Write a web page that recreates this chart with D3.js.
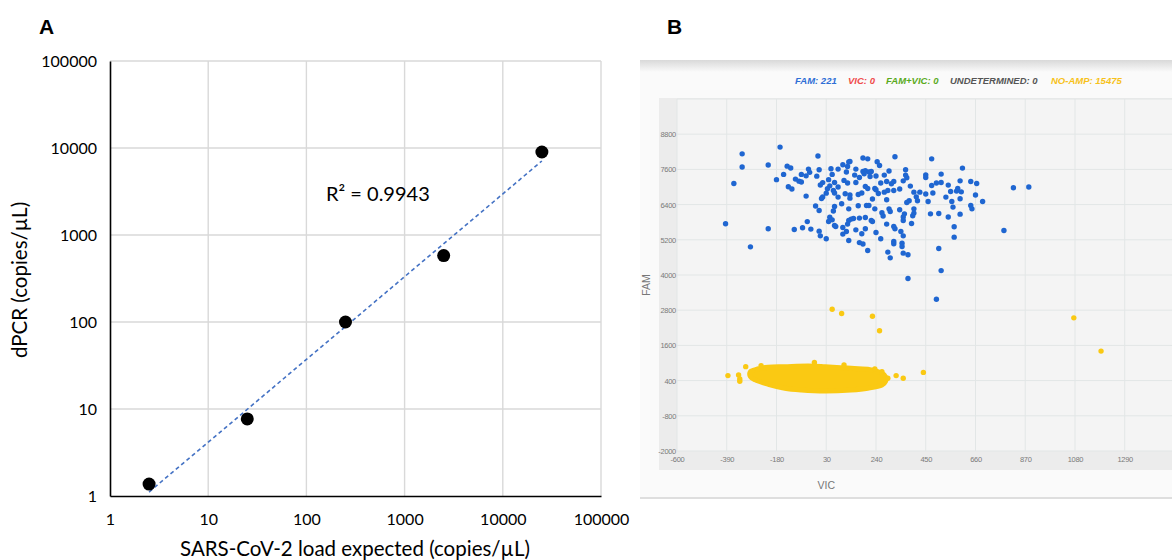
<!DOCTYPE html>
<html>
<head>
<meta charset="utf-8">
<script src="https://cdn.jsdelivr.net/npm/d3@7"></script>
<style>
  body { margin: 0; background: #fff; }
  svg { display: block; font-family: "Liberation Sans", Arial, sans-serif; }
</style>
</head>
<body>
<svg id="chart" width="1172" height="560"></svg>
<script>
// ---------- panel A data ----------
var loadExpected = [2.5, 25, 250, 2500, 25000];
var dpcrMeasured = [1.37, 7.7, 100, 580, 9000];
var logTicks = [1, 10, 100, 1000, 10000, 100000];
var r2Label = "R\u00b2 = 0.9943";

// ---------- panel B data ----------
var legendLabels = ["FAM: 221", "VIC: 0", "FAM+VIC: 0", "UNDETERMINED: 0", "NO-AMP: 15475"];
var vicTicks = [-600, -390, -180, 30, 240, 450, 660, 870, 1080, 1290];
var famTicks = [-2000, -800, 400, 1600, 2800, 4000, 5200, 6400, 7600, 8800];

// FAM positive droplets [VIC, FAM]
var famDroplets = [
  [-325,8130],[-165,8360],[-325,7680],[-215,7750],[-360,7120],[-135,7710],[-120,7650],[-150,7430],[-180,7250],[-130,7010],
  [-115,6930],[-100,7270],[-85,7200],[-75,7170],[-75,7430],[-55,7380],[-45,7610],[-40,7500],[-5,8055],[-10,7370],
  [0,7590],[-55,6690],[-15,6350],[0,6200],[-395,5745],[-50,5820],[50,7620],[55,7430],[40,7250],[15,7150],
  [5,7070],[45,7040],[35,6940],[60,6880],[30,6790],[15,6660],[10,6610],[45,5970],[60,6180],[55,5880],
  [-290,4960],[-215,5575],[-105,5550],[-70,5610],[-35,5565],[0,5495],[5,5335],[30,5235],[40,5825],[65,5690],
  [185,7990],[205,7960],[320,8030],[475,7960],[100,7760],[125,7850],[130,7870],[120,7700],[80,7610],[155,7610],
  [115,7510],[245,7860],[255,7735],[185,7530],[195,7555],[210,7510],[220,7530],[190,7450],[150,7405],[170,7325],
  [215,7360],[240,7375],[275,7405],[295,7545],[365,7590],[365,7405],[370,7315],[450,7415],[450,7325],[515,7440],
  [65,7155],[105,7225],[120,7135],[155,7155],[260,7135],[285,7190],[315,7190],[305,7110],[355,7210],[385,7030],
  [475,7050],[495,7135],[515,7155],[545,7065],[80,7000],[195,7020],[205,6950],[235,6950],[240,6905],[275,6825],
  [290,6880],[315,6880],[340,6930],[400,6825],[425,6825],[65,6795],[110,6770],[130,6725],[165,6745],[180,6795],
  [250,6780],[450,6760],[480,6795],[555,6845],[535,6655],[80,6655],[130,6620],[225,6590],[285,6565],[410,6665],
  [415,6530],[460,6505],[380,6530],[370,6470],[95,6430],[125,6255],[165,6360],[200,6370],[210,6370],[340,6225],
  [400,6255],[235,6255],[295,6255],[300,6165],[265,6120],[270,6010],[360,6085],[355,5975],[400,6110],[395,6020],
  [470,6085],[505,6095],[545,5975],[135,5905],[145,5925],[170,5940],[195,5960],[220,5860],[125,5860],[65,6335],
  [70,5655],[100,5620],[100,5395],[115,5485],[120,5735],[125,5175],[155,5540],[180,5405],[195,5575],[225,5825],
  [170,5105],[185,5055],[205,4835],[240,5450],[260,5235],[285,5735],[315,5655],[320,5575],[345,5485],[355,5335],
  [390,5755],[315,5140],[315,5065],[350,5085],[350,4970],[290,4780],[300,4585],[355,4745],[375,4690],[505,4905],
  [570,5290],[515,4150],[375,3880],[495,3175],[355,5860],[605,7645],[640,7190],[665,7120],[595,7210],[820,6975],
  [885,7000],[585,6950],[580,6860],[600,6835],[660,6725],[595,6600],[560,6505],[690,6505],[565,6315],[640,6370],
  [645,6255],[595,6075],[570,5645],[780,5515]
];

// NO-AMP droplets: dense core outline and the scattered ones round it [VIC, FAM]
var noAmpCore = [
  [-290,705],[-255,800],[-215,855],[-145,875],[-45,900],[25,875],[95,840],[165,800],[220,765],[265,650],
  [280,535],[280,365],[265,250],[205,140],[135,80],[25,45],[-75,80],[-145,140],[-215,275],[-270,425],[-290,535]
];
var noAmpDroplets = [
  [55,2830],[95,2690],[225,2595],[255,2100],[1075,2540],[1190,1405],[440,680],[325,570],[355,480],[290,480],
  [-385,570],[-340,595],[-335,455],[-335,380],[-310,875],[-245,910],[-260,790],[-20,1015],[105,935],[235,800],[265,705]
];

var svg = d3.select("#chart");
var plain = function(d){ return String(d); };

// ================= PANEL A =================
var xA = d3.scaleLog().domain([1, 100000]).range([110, 601]);
var yA = d3.scaleLog().domain([1, 100000]).range([496, 61]);
var fontA = "Lato, 'Open Sans', sans-serif";

svg.append("text").attr("x", 39).attr("y", 34)
  .style("font-family", "Arial, 'Liberation Sans', sans-serif")
  .style("font-weight", "bold").style("font-size", "21px").text("A");

var gA = svg.append("g");

gA.selectAll("line.vgrid").data(logTicks.slice(1)).enter().append("line")
  .attr("class", "vgrid")
  .attr("x1", function(d){ return xA(d); }).attr("x2", function(d){ return xA(d); })
  .attr("y1", yA(100000)).attr("y2", yA(1))
  .attr("stroke", "#d9d9d9").attr("stroke-width", 1.4);

gA.selectAll("line.hgrid").data(logTicks.slice(1)).enter().append("line")
  .attr("class", "hgrid")
  .attr("y1", function(d){ return yA(d); }).attr("y2", function(d){ return yA(d); })
  .attr("x1", xA(1)).attr("x2", xA(100000))
  .attr("stroke", "#d9d9d9").attr("stroke-width", 1.4);

// axes (labels only, lines drawn by hand in black)
var axA_left = gA.append("g").attr("transform", "translate(" + xA(1) + ",0)")
  .call(d3.axisLeft(yA).tickValues(logTicks).tickFormat(plain).tickSize(0).tickPadding(13));
var axA_bottom = gA.append("g").attr("transform", "translate(0," + yA(1) + ")")
  .call(d3.axisBottom(xA).tickValues(logTicks).tickFormat(plain).tickSize(0).tickPadding(18));
[axA_left, axA_bottom].forEach(function(a){
  a.select(".domain").attr("stroke", "#000").attr("stroke-width", 1.6);
  a.selectAll("text").style("font-family", fontA).style("font-size", "16px").attr("fill", "#000");
});

// trend line (least squares in log-log space)
var lx = loadExpected.map(function(v){ return Math.log10(v); });
var ly = dpcrMeasured.map(function(v){ return Math.log10(v); });
var mx = d3.mean(lx), my = d3.mean(ly);
var slope = d3.sum(lx, function(v, i){ return (v - mx) * (ly[i] - my); }) / d3.sum(lx, function(v){ return (v - mx) * (v - mx); });
var icpt = my - slope * mx;
var fitLine = d3.line()
  .x(function(d){ return xA(d); })
  .y(function(d){ return yA(Math.pow(10, icpt + slope * Math.log10(d))); });
gA.append("path").datum(d3.extent(loadExpected))
  .attr("d", fitLine).attr("fill", "none")
  .attr("stroke", "#4472c4").attr("stroke-width", 1.6).attr("stroke-dasharray", "4,3");

gA.selectAll("circle").data(loadExpected).enter().append("circle")
  .attr("cx", function(d){ return xA(d); })
  .attr("cy", function(d, i){ return yA(dpcrMeasured[i]); })
  .attr("r", 6.5).attr("fill", "#000");

gA.append("text").attr("x", 326).attr("y", 201)
  .style("font-family", fontA).style("font-size", "20px").text(r2Label);

gA.append("text").attr("x", 355).attr("y", 556).attr("text-anchor", "middle")
  .style("font-family", fontA).style("font-size", "20.5px")
  .text("SARS-CoV-2 load expected (copies/\u00b5L)");

gA.append("text").attr("transform", "translate(27,280) rotate(-90)").attr("text-anchor", "middle")
  .style("font-family", fontA).style("font-size", "20.5px")
  .text("dPCR (copies/\u00b5L)");

// ================= PANEL B =================
svg.append("text").attr("x", 667).attr("y", 34)
  .style("font-family", "Arial, 'Liberation Sans', sans-serif")
  .style("font-weight", "bold").style("font-size", "21px").text("B");

var defs = svg.append("defs");
var grad = defs.append("linearGradient").attr("id", "shadow").attr("x1", 0).attr("x2", 0).attr("y1", 0).attr("y2", 1);
grad.append("stop").attr("offset", "0%").attr("stop-color", "#d9d9d9");
grad.append("stop").attr("offset", "100%").attr("stop-color", "#fafafa");

var gB = svg.append("g");
gB.append("rect").attr("x", 640).attr("y", 62).attr("width", 532).attr("height", 436).attr("fill", "#fafafa");
gB.append("rect").attr("x", 640).attr("y", 60).attr("width", 532).attr("height", 12).attr("fill", "url(#shadow)");
gB.append("line").attr("x1", 640).attr("x2", 1172).attr("y1", 498).attr("y2", 498)
  .attr("stroke", "#dedede").attr("stroke-width", 2);

var xB = d3.scaleLinear().domain([-600, 1500]).range([677, 1174.5]);
var yB = d3.scaleLinear().domain([-2000, 10000]).range([451, 99]);

// axis strips and plot background
gB.append("rect").attr("x", 659).attr("y", 98).attr("width", 520).attr("height", 372).attr("fill", "#ececec");
gB.append("rect").attr("x", xB(-600)).attr("y", yB(10000))
  .attr("width", xB(1500) - xB(-600)).attr("height", yB(-2000) - yB(10000)).attr("fill", "#f4f4f4");

gB.selectAll("line.vg").data(vicTicks.concat([1500])).enter().append("line").attr("class", "vg")
  .attr("x1", function(d){ return xB(d); }).attr("x2", function(d){ return xB(d); })
  .attr("y1", yB(10000)).attr("y2", yB(-2000))
  .attr("stroke", "#e2e6e6").attr("stroke-width", 1);
gB.selectAll("line.hg").data(famTicks.concat([10000])).enter().append("line").attr("class", "hg")
  .attr("y1", function(d){ return yB(d); }).attr("y2", function(d){ return yB(d); })
  .attr("x1", xB(-600)).attr("x2", xB(1500))
  .attr("stroke", "#e2e6e6").attr("stroke-width", 1);

var axB_left = gB.append("g").attr("transform", "translate(" + xB(-600) + ",0)")
  .call(d3.axisLeft(yB).tickValues(famTicks).tickSize(0).tickPadding(1).tickFormat(plain));
var axB_bottom = gB.append("g").attr("transform", "translate(0," + yB(-2000) + ")")
  .call(d3.axisBottom(xB).tickValues(vicTicks).tickSize(0).tickPadding(6).tickFormat(plain));
[axB_left, axB_bottom].forEach(function(a){
  a.select(".domain").remove();
  a.selectAll("text").style("font-size", "7.5px").attr("fill", "#7a7a7a").style("letter-spacing", "-0.3px");
});

gB.append("text").attr("x", xB(30)).attr("y", 489).attr("text-anchor", "middle")
  .style("font-size", "10.5px").attr("fill", "#777").text("VIC");
gB.append("text").attr("transform", "translate(650,285) rotate(-90)").attr("text-anchor", "middle")
  .style("font-size", "10.5px").attr("fill", "#777").text("FAM");

// legend
var legendColors = ["#2f6fd6", "#f04b4b", "#5aaa1e", "#555555", "#f7c21a"];
var legendX = [795, 848, 886, 950, 1051];
gB.selectAll("text.leg").data(legendLabels).enter().append("text").attr("class", "leg")
  .attr("x", function(d, i){ return legendX[i]; }).attr("y", 84)
  .style("font-size", "9.5px").style("font-weight", "bold").style("font-style", "italic")
  .attr("fill", function(d, i){ return legendColors[i]; })
  .text(function(d){ return d; });

// droplets
var coreLine = d3.line().x(function(d){ return xB(d[0]); }).y(function(d){ return yB(d[1]); })
  .curve(d3.curveCatmullRomClosed);
gB.append("path").datum(noAmpCore).attr("d", coreLine)
  .attr("fill", "#fac913").attr("stroke", "#fac913").attr("stroke-width", 5).attr("stroke-linejoin", "round");

gB.selectAll("circle.noamp").data(noAmpDroplets).enter().append("circle").attr("class", "noamp")
  .attr("cx", function(d){ return xB(d[0]); }).attr("cy", function(d){ return yB(d[1]); })
  .attr("r", 2.7).attr("fill", "#fac913");

gB.selectAll("circle.fam").data(famDroplets).enter().append("circle").attr("class", "fam")
  .attr("cx", function(d){ return xB(d[0]); }).attr("cy", function(d){ return yB(d[1]); })
  .attr("r", 2.7).attr("fill", "#1f66d1");
</script>
</body>
</html>
